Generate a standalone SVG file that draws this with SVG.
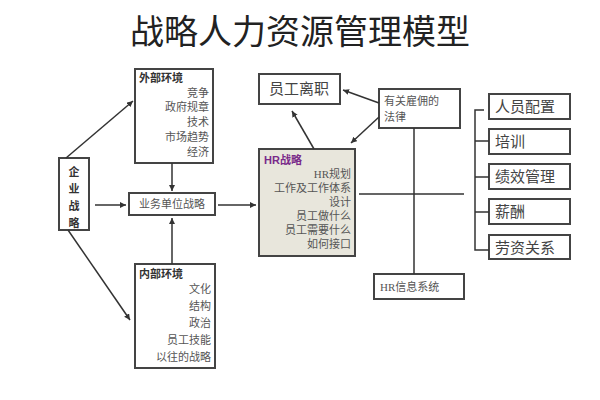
<svg xmlns="http://www.w3.org/2000/svg" width="600" height="400" viewBox="0 0 600 400">
<style>
.b{fill:#fff;stroke:#444;stroke-width:2}
.t{font-family:"Liberation Serif","Noto Sans CJK SC",serif;fill:#555;font-size:11px}
.h{font-family:"Liberation Sans","Noto Sans CJK SC",sans-serif;font-weight:bold;fill:#333;font-size:11px}
.l{stroke:#333;stroke-width:1.5;fill:none}
.big{font-family:"Liberation Serif","Noto Sans CJK SC",serif;fill:#444;font-size:15px}
</style>
<defs><marker id="a" markerWidth="8" markerHeight="8" refX="6" refY="3" orient="auto" markerUnits="userSpaceOnUse"><path d="M0,0L6,3L0,6z" fill="#333"/></marker></defs>
<rect width="600" height="400" fill="#fff"/>
<text x="300" y="44" text-anchor="middle" font-family="Liberation Serif,'Noto Sans CJK SC',serif" font-size="34" fill="#222">战略人力资源管理模型</text>
<g id="qiye"><rect class="b" x="59" y="158" width="30" height="72"/><text class="h" font-size="15" x="74" text-anchor="middle"><tspan x="74" y="176">企</tspan><tspan x="74" y="193">业</tspan><tspan x="74" y="210">战</tspan><tspan x="74" y="227">略</tspan></text></g>
<g id="waibu"><rect class="b" x="135" y="69" width="78" height="94"/><text class="h" x="139" y="82">外部环境</text><text class="t" text-anchor="end"><tspan x="209" y="97">竞争</tspan><tspan x="209" y="111">政府规章</tspan><tspan x="209" y="126">技术</tspan><tspan x="209" y="141">市场趋势</tspan><tspan x="209" y="156">经济</tspan></text></g>
<g id="yewu"><rect class="b" x="129" y="193" width="86" height="22"/><text class="t" x="172" y="208" text-anchor="middle">业务单位战略</text></g>
<g id="neibu"><rect class="b" x="135" y="264" width="80" height="104"/><text class="h" x="139" y="278">内部环境</text><text class="t" text-anchor="end"><tspan x="211" y="293">文化</tspan><tspan x="211" y="310">结构</tspan><tspan x="211" y="327">政治</tspan><tspan x="211" y="344">员工技能</tspan><tspan x="211" y="361">以往的战略</tspan></text></g>
<g id="lizhi"><rect class="b" x="259" y="74" width="81" height="30"/><text class="big" x="299" y="94" text-anchor="middle">员工离职</text></g>
<g id="falv"><rect class="b" x="379" y="89" width="81" height="39"/><text class="t" font-size="13"><tspan x="384" y="105">有关雇佣的</tspan><tspan x="384" y="121">法律</tspan></text></g>
<g id="hr"><rect x="259" y="149" width="96" height="107" fill="#e8e6dc" stroke="#444" stroke-width="2"/><text class="h" x="264" y="164" fill="#7a2a8a" style="fill:#7a2a8a">HR战略</text><text class="t" text-anchor="end"><tspan x="351" y="178">HR规划</tspan><tspan x="351" y="192">工作及工作体系</tspan><tspan x="351" y="206">设计</tspan><tspan x="351" y="220">员工做什么</tspan><tspan x="351" y="234">员工需要什么</tspan><tspan x="351" y="248">如何接口</tspan></text></g>
<g id="xinxi"><rect class="b" x="374" y="274" width="90" height="25"/><text class="t" font-size="13" x="380" y="291">HR信息系统</text></g>
<g id="r1"><rect class="b" x="489" y="94" width="81" height="25"/><text class="big" x="495" y="112">人员配置</text></g>
<g id="r2"><rect class="b" x="489" y="129" width="81" height="25"/><text class="big" x="495" y="147">培训</text></g>
<g id="r3"><rect class="b" x="489" y="164" width="81" height="25"/><text class="big" x="495" y="182">绩效管理</text></g>
<g id="r4"><rect class="b" x="489" y="199" width="81" height="25"/><text class="big" x="495" y="217">薪酬</text></g>
<g id="r5"><rect class="b" x="489" y="235" width="81" height="24"/><text class="big" x="495" y="253">劳资关系</text></g>
<g id="connectors">
<path class="l" d="M66,158L133,101" marker-end="url(#a)"/>
<path class="l" d="M68,230L130,320" marker-end="url(#a)"/>
<path class="l" d="M95,205L126,205" marker-end="url(#a)"/>
<path class="l" d="M172,163L172,191" marker-end="url(#a)"/>
<path class="l" d="M172,264L172,218" marker-end="url(#a)"/>
<path class="l" d="M218,205L256,205" marker-end="url(#a)"/>
<path class="l" d="M314,149L292,111" marker-end="url(#a)"/>
<path class="l" d="M379,103L343,90" marker-end="url(#a)"/>
<path class="l" d="M379,117L351,143" marker-end="url(#a)"/>
<path class="l" d="M414,128V274M359,194H464"/>
<path class="l" d="M484,110H475V250H489M475,141H489M475,177H489M475,212H489"/>
</g>
</svg>
